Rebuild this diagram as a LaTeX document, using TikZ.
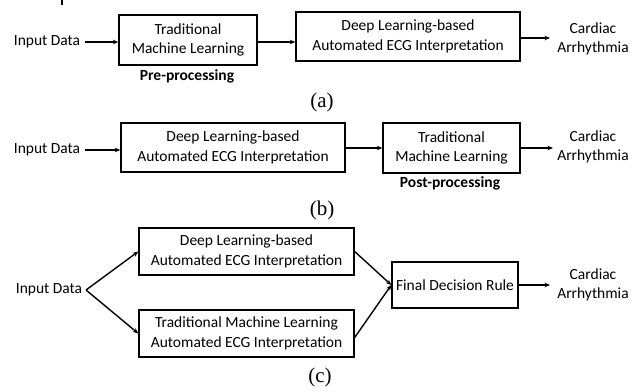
\documentclass[tikz,border=0pt]{standalone}
\usepackage{fontspec}
\setsansfont{Carlito}
\newfontfamily\capfont{Liberation Serif}
\usetikzlibrary{arrows.meta}
\begin{document}
\begin{tikzpicture}[x=1pt,y=-1pt,
  every node/.style={inner sep=0pt,font=\sffamily\fontsize{15.5}{19.5}\selectfont,align=center},
  box/.style={draw,line width=1.4pt},
  lbl/.style={font=\sffamily\bfseries\fontsize{15.5}{19.5}\selectfont},
  captxt/.style={font=\capfont\fontsize{21}{24}\selectfont},
  arr/.style={line width=1.4pt,-{Stealth[length=5.5pt,width=4.5pt]}}]
\useasboundingbox (0,0) rectangle (632,391);
\fill (60.5,0) rectangle (62.5,5);
% (a)
\node (inA) at (47,42) {Input Data};
\node[box,minimum width=138pt,minimum height=50pt] (b1) at (188,40) {Traditional\\Machine Learning};
\node[lbl] (pre) at (187,76) {Pre-processing};
\node[box,minimum width=224pt,minimum height=49pt] (b2) at (408,36.5) {Deep Learning-based\\Automated ECG Interpretation};
\node (outA) at (593,39) {Cardiac\\Arrhythmia};
\node[captxt] (capA) at (322,102) {(a)};
\draw[arr] (inA.east) ++(5,0) coordinate (sA) -- (b1.west |- sA);
\draw[arr] (b1.east |- 0,42) coordinate (sA2) -- (b2.west |- sA2);
\draw[arr] (b2.east |- 0,38) coordinate (sA3) -- (550,38) coordinate (eA3);
% (b)
\node (inB) at (47,150) {Input Data};
\node[box,minimum width=224pt,minimum height=49pt] (b3) at (233,147.5) {Deep Learning-based\\Automated ECG Interpretation};
\node[box,minimum width=137pt,minimum height=50pt] (b4) at (451.5,148) {Traditional\\Machine Learning};
\node[lbl] (post) at (450,183) {Post-processing};
\node (outB) at (593,147) {Cardiac\\Arrhythmia};
\node[captxt] (capB) at (322,210) {(b)};
\draw[arr] (inB.east) ++(5,0) coordinate (sB) -- (b3.west |- sB);
\draw[arr] (b3.east |- 0,148) coordinate (sB2) -- (b4.west |- sB2);
\draw[arr] (b4.east) -- (553,148) coordinate (eB);
% (c)
\node (inC) at (49,290) {Input Data};
\coordinate (ap) at (86,290);
\node[box,minimum width=215pt,minimum height=47pt] (b5) at (246.5,251.5) {Deep Learning-based\\Automated ECG Interpretation};
\node[box,minimum width=215pt,minimum height=47pt] (b6) at (246.5,333.5) {Traditional Machine Learning\\Automated ECG Interpretation};
\node[box,minimum width=126pt,minimum height=46pt] (b7) at (455,285) {Final Decision Rule};
\node (outC) at (593,285) {Cardiac\\Arrhythmia};
\node[captxt] (capC) at (320,377) {(c)};
\draw[arr] (ap) -- (b5.west);
\draw[arr] (ap) -- (b6.west);
\draw[arr] (b5.east) -- (b7.west);
\draw[arr] ([yshift=-4pt]b6.east) -- (b7.west);
\draw[arr] (b7.east) -- (550,285) coordinate (eC);
\end{tikzpicture}
\end{document}
